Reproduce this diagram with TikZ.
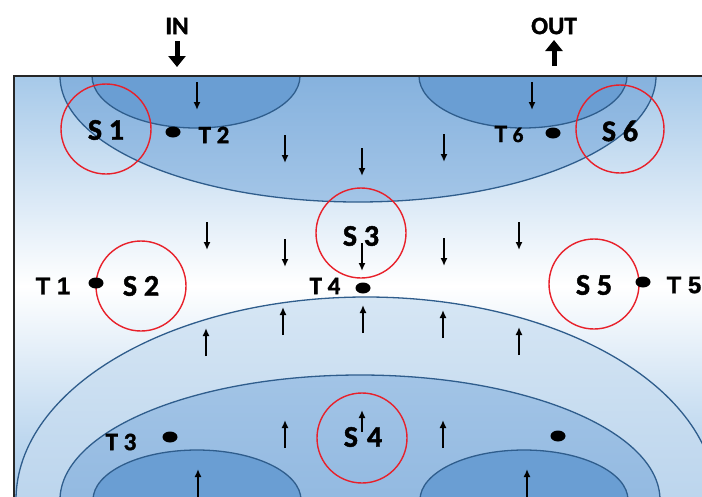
\documentclass[tikz,border=0pt]{standalone}
\usepackage{fontspec}
\setmainfont{Carlito}[BoldFeatures={FakeBold=1.5}]
\newfontfamily\arialb{Liberation Sans}[BoldFeatures={FakeBold=1}]
\usetikzlibrary{arrows.meta}
\definecolor{bgtop}{HTML}{A6C9E9}
\definecolor{edge}{HTML}{2F5D8C}
\definecolor{ringred}{HTML}{E8202A}
\definecolor{uotop}{HTML}{86B2DE}
\definecolor{uobot}{HTML}{A3C5E7}
\definecolor{inner}{HTML}{6A9ED3}
\definecolor{botop}{HTML}{D6E6F4}
\definecolor{bobot}{HTML}{A2C4E6}
\definecolor{bmtop}{HTML}{A2C4E6}
\definecolor{bmbot}{HTML}{84AFDC}
\tikzset{
  outline/.style={draw=edge, line width=1.3pt},
  ring/.style={circle, draw=ringred, line width=1.4pt, inner sep=0pt, minimum size=#1},
  ring/.default=90pt,
  blob/.style={ellipse, fill=black, inner sep=0pt, minimum width=15pt, minimum height=11pt},
  flow/.style={line width=1.8pt, -{Latex[length=8pt,width=7pt]}},
  bigflow/.style={line width=5pt, -{Triangle[length=11pt,width=17pt]}},
  slab/.style={inner sep=0pt, font=\bfseries\fontsize{30}{34}\selectfont},
  tlab/.style={inner sep=0pt, font=\bfseries\fontsize{25}{29}\selectfont},
  alab/.style={inner sep=0pt, font=\arialb\bfseries\fontsize{24}{28}\selectfont},
}
\usetikzlibrary{shapes.geometric}
\begin{document}
\begin{tikzpicture}[x=1pt,y=-1pt]
\useasboundingbox (0,0) rectangle (702,496);
% background
\shade[top color=bgtop, bottom color=bgtop, middle color=white] (14,76) rectangle (702,496);
\begin{scope}
\clip (14,76) rectangle (702,496);
% upper layers
\shade[top color=uotop, bottom color=uobot] (60,76) arc[start angle=180, end angle=360, x radius=298pt, y radius=126pt] -- cycle;
\draw[outline] (60,76) arc[start angle=180, end angle=360, x radius=298pt, y radius=126pt];
\fill[inner] (92,76) arc[start angle=180, end angle=360, x radius=104pt, y radius=52pt] -- cycle;
\draw[outline] (92,76) arc[start angle=180, end angle=360, x radius=104pt, y radius=52pt];
\fill[inner] (419,76) arc[start angle=180, end angle=360, x radius=104pt, y radius=52pt] -- cycle;
\draw[outline] (419,76) arc[start angle=180, end angle=360, x radius=104pt, y radius=52pt];
% lower layers
\shade[top color=botop, bottom color=bobot, outline] (366,500) ellipse [x radius=350pt, y radius=203pt];
\shade[top color=bmtop, bottom color=bmbot, outline] (360,500) ellipse [x radius=300pt, y radius=125pt];
\filldraw[fill=inner, outline] (197,500) ellipse [x radius=104pt, y radius=50pt];
\filldraw[fill=inner, outline] (524,500) ellipse [x radius=104pt, y radius=50pt];
\end{scope}
% frame
\draw[line width=1.5pt, black!85] (14,497) -- (14,76) -- (703,76);
% rings
\node[ring] (s1) at (106,129) {};
\node[ring=88pt] (s6) at (620,129) {};
\node[ring] (s2) at (141,286) {};
\node[ring] (s5) at (594,284) {};
\node[ring] (s3) at (361,233) {};
\node[ring] (s4) at (362,438) {};
% dots
\node[blob] (t2) at (173,132) {};
\node[blob] (t6) at (553,133) {};
\node[blob] (t1) at (96,283) {};
\node[blob] (t5) at (643,282) {};
\node[blob] (t4) at (363,288) {};
\node[blob] (t3) at (170,437) {};
\node[blob] (t7) at (558,436) {};
% labels
\node[tlab] (in) at (177,26) {IN};
\node[tlab] (out) at (554,26) {OUT};
\node[slab] (ls1) at (106,130) {S 1};
\node[slab] (ls6) at (620,131) {S 6};
\node[slab] (ls2) at (141,286) {S 2};
\node[slab] (ls5) at (594,285) {S 5};
\node[slab] (ls3) at (361,236) {S 3};
\node[slab] (ls4) at (363,437) {S\kern9pt4};
\node[tlab] (lt2) at (214,135) {T 2};
\node[tlab] (lt6) at (509,134) {T {\fontsize{21}{24}\selectfont 6}};
\node[tlab] (lt4) at (325,286) {T 4};
\node[tlab] (lt3) at (121,442) {T 3};
\node[alab] (lt1) at (53,286) {T 1};
\node[alab] (lt5) at (684,285) {T 5};
% in / out
\coordinate (ina) at (177,41);
\coordinate (inb) at (177,67);
\coordinate (outa) at (554,66);
\coordinate (outb) at (554,40);
\draw[bigflow] (ina) -- (inb);
\draw[bigflow] (outa) -- (outb);
% flow arrows (down)
\foreach \x/\y in {197/82, 532/82, 285/135, 444/134, 362/148, 207/222, 285/239, 362/243, 444/238, 519/222}
  \draw[flow] (\x,\y) -- ++(0,28);
% flow arrows (up)
\foreach \x/\y in {283/335, 206/356, 363/333, 443/338, 519/355, 285/448, 443/448, 198/497, 527/497}
  \draw[flow] (\x,\y) -- ++(0,-28);
\draw[flow] (362,432) -- (362,410);
\end{tikzpicture}
\end{document}
